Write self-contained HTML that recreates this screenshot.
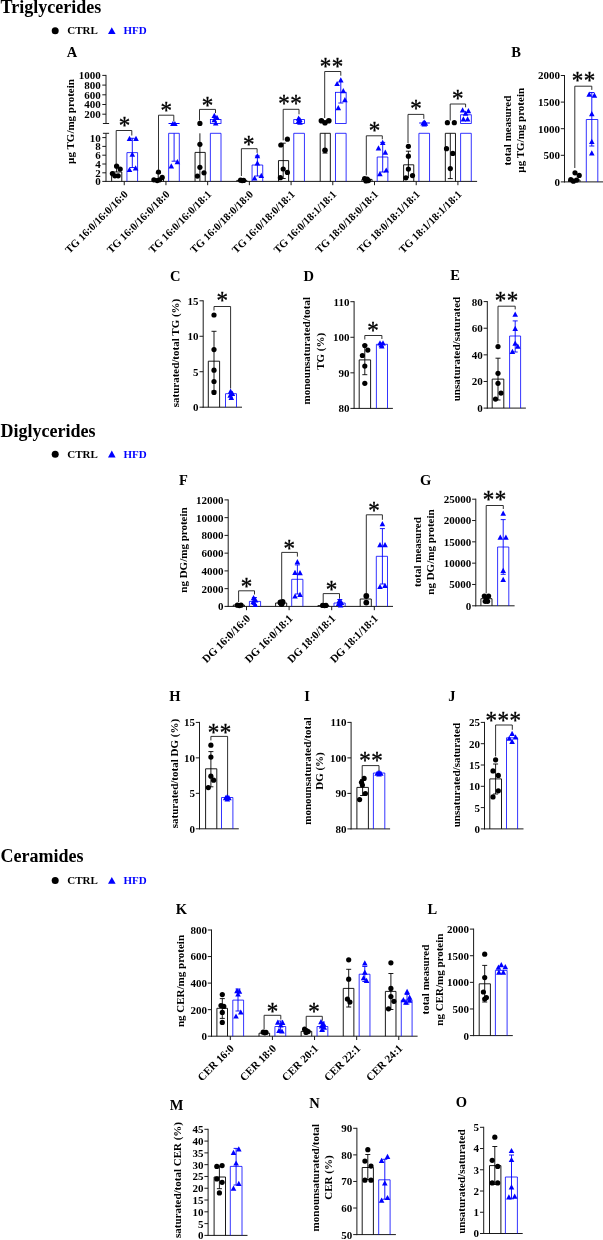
<!DOCTYPE html>
<html lang="en">
<head>
<meta charset="utf-8">
<title>Triglycerides, Diglycerides, Ceramides</title>
<style>
html,body{margin:0;padding:0;background:#fff;}
svg{display:block;font-family:"Liberation Serif", "DejaVu Serif", serif;}
svg text{font-family:"Liberation Serif", "DejaVu Serif", serif;}
</style>
</head>
<body>
<svg width="603" height="1240" viewBox="0 0 603 1240">
<rect x="0" y="0" width="603" height="1240" fill="#fff"/>
<text x="0.5" y="12.5" font-size="18" text-anchor="start" fill="#000" font-weight="bold">Triglycerides</text>
<circle cx="55.2" cy="30.8" r="3.5" fill="#000"/>
<text x="67.2" y="34.4" font-size="11" text-anchor="start" fill="#000" font-weight="bold">CTRL</text>
<polygon points="111.8,27.2 115.6,34.1 108,34.1" fill="#0000ff"/>
<text x="123.5" y="34.4" font-size="11" text-anchor="start" fill="#0000ff" font-weight="bold">HFD</text>
<text x="0.5" y="436.6" font-size="18" text-anchor="start" fill="#000" font-weight="bold">Diglycerides</text>
<circle cx="55.2" cy="454.2" r="3.5" fill="#000"/>
<text x="67.2" y="457.8" font-size="11" text-anchor="start" fill="#000" font-weight="bold">CTRL</text>
<polygon points="111.8,450.6 115.6,457.5 108,457.5" fill="#0000ff"/>
<text x="123.5" y="457.8" font-size="11" text-anchor="start" fill="#0000ff" font-weight="bold">HFD</text>
<text x="0.5" y="861.6" font-size="18" text-anchor="start" fill="#000" font-weight="bold">Ceramides</text>
<circle cx="55.2" cy="880.5" r="3.5" fill="#000"/>
<text x="67.2" y="884.1" font-size="11" text-anchor="start" fill="#000" font-weight="bold">CTRL</text>
<polygon points="111.8,876.9 115.6,883.8 108,883.8" fill="#0000ff"/>
<text x="123.5" y="884.1" font-size="11" text-anchor="start" fill="#0000ff" font-weight="bold">HFD</text>
<text x="66.8" y="56.5" font-size="14.5" text-anchor="start" fill="#000" font-weight="bold">A</text>
<line x1="106" y1="74.9" x2="106" y2="123.5" stroke="#1a1a1a" stroke-width="1"/>
<line x1="102.3" y1="75.4" x2="106" y2="75.4" stroke="#1a1a1a" stroke-width="1"/>
<text x="100.8" y="79.3" font-size="11" text-anchor="end" fill="#000" font-weight="bold">1000</text>
<line x1="102.3" y1="85.1" x2="106" y2="85.1" stroke="#1a1a1a" stroke-width="1"/>
<text x="100.8" y="89" font-size="11" text-anchor="end" fill="#000" font-weight="bold">800</text>
<line x1="102.3" y1="94.8" x2="106" y2="94.8" stroke="#1a1a1a" stroke-width="1"/>
<text x="100.8" y="98.7" font-size="11" text-anchor="end" fill="#000" font-weight="bold">600</text>
<line x1="102.3" y1="104.5" x2="106" y2="104.5" stroke="#1a1a1a" stroke-width="1"/>
<text x="100.8" y="108.4" font-size="11" text-anchor="end" fill="#000" font-weight="bold">400</text>
<line x1="102.3" y1="114.2" x2="106" y2="114.2" stroke="#1a1a1a" stroke-width="1"/>
<text x="100.8" y="118.1" font-size="11" text-anchor="end" fill="#000" font-weight="bold">200</text>
<line x1="102.9" y1="123.5" x2="109.1" y2="123.5" stroke="#1a1a1a" stroke-width="1"/>
<line x1="106" y1="133.3" x2="106" y2="181.9" stroke="#1a1a1a" stroke-width="1"/>
<line x1="102.9" y1="133.3" x2="109.1" y2="133.3" stroke="#1a1a1a" stroke-width="1"/>
<line x1="102.3" y1="137.6" x2="106" y2="137.6" stroke="#1a1a1a" stroke-width="1"/>
<text x="100.8" y="141.5" font-size="11" text-anchor="end" fill="#000" font-weight="bold">10</text>
<line x1="102.3" y1="146.4" x2="106" y2="146.4" stroke="#1a1a1a" stroke-width="1"/>
<text x="100.8" y="150.3" font-size="11" text-anchor="end" fill="#000" font-weight="bold">8</text>
<line x1="102.3" y1="155.2" x2="106" y2="155.2" stroke="#1a1a1a" stroke-width="1"/>
<text x="100.8" y="159.1" font-size="11" text-anchor="end" fill="#000" font-weight="bold">6</text>
<line x1="102.3" y1="164" x2="106" y2="164" stroke="#1a1a1a" stroke-width="1"/>
<text x="100.8" y="167.9" font-size="11" text-anchor="end" fill="#000" font-weight="bold">4</text>
<line x1="102.3" y1="172.8" x2="106" y2="172.8" stroke="#1a1a1a" stroke-width="1"/>
<text x="100.8" y="176.7" font-size="11" text-anchor="end" fill="#000" font-weight="bold">2</text>
<line x1="102.3" y1="181.4" x2="106" y2="181.4" stroke="#1a1a1a" stroke-width="1"/>
<text x="100.8" y="185.3" font-size="11" text-anchor="end" fill="#000" font-weight="bold">0</text>
<text x="73.5" y="121.5" font-size="11" text-anchor="middle" fill="#000" font-weight="bold" transform="rotate(-90 73.5 121.5)">µg TG/mg protein</text>
<line x1="105.5" y1="181.4" x2="477.1" y2="181.4" stroke="#1a1a1a" stroke-width="1"/>
<line x1="124.24" y1="181.4" x2="124.24" y2="185.2" stroke="#1a1a1a" stroke-width="1"/>
<line x1="165.95" y1="181.4" x2="165.95" y2="185.2" stroke="#1a1a1a" stroke-width="1"/>
<line x1="207.66" y1="181.4" x2="207.66" y2="185.2" stroke="#1a1a1a" stroke-width="1"/>
<line x1="249.37" y1="181.4" x2="249.37" y2="185.2" stroke="#1a1a1a" stroke-width="1"/>
<line x1="291.08" y1="181.4" x2="291.08" y2="185.2" stroke="#1a1a1a" stroke-width="1"/>
<line x1="332.79" y1="181.4" x2="332.79" y2="185.2" stroke="#1a1a1a" stroke-width="1"/>
<line x1="374.5" y1="181.4" x2="374.5" y2="185.2" stroke="#1a1a1a" stroke-width="1"/>
<line x1="416.21" y1="181.4" x2="416.21" y2="185.2" stroke="#1a1a1a" stroke-width="1"/>
<line x1="457.92" y1="181.4" x2="457.92" y2="185.2" stroke="#1a1a1a" stroke-width="1"/>
<text x="128.64" y="194.9" font-size="10.8" text-anchor="end" fill="#000" font-weight="bold" transform="rotate(-45 128.64 194.9)">TG 16:0/16:0/16:0</text>
<text x="170.35" y="194.9" font-size="10.8" text-anchor="end" fill="#000" font-weight="bold" transform="rotate(-45 170.35 194.9)">TG 16:0/16:0/18:0</text>
<text x="212.06" y="194.9" font-size="10.8" text-anchor="end" fill="#000" font-weight="bold" transform="rotate(-45 212.06 194.9)">TG 16:0/16:0/18:1</text>
<text x="253.77" y="194.9" font-size="10.8" text-anchor="end" fill="#000" font-weight="bold" transform="rotate(-45 253.77 194.9)">TG 16:0/18:0/18:0</text>
<text x="295.48" y="194.9" font-size="10.8" text-anchor="end" fill="#000" font-weight="bold" transform="rotate(-45 295.48 194.9)">TG 16:0/18:0/18:1</text>
<text x="337.19" y="194.9" font-size="10.8" text-anchor="end" fill="#000" font-weight="bold" transform="rotate(-45 337.19 194.9)">TG 16:0/18:1/18:1</text>
<text x="378.9" y="194.9" font-size="10.8" text-anchor="end" fill="#000" font-weight="bold" transform="rotate(-45 378.9 194.9)">TG 18:0/18:0/18:1</text>
<text x="420.61" y="194.9" font-size="10.8" text-anchor="end" fill="#000" font-weight="bold" transform="rotate(-45 420.61 194.9)">TG 18:0/18:1/18:1</text>
<text x="462.32" y="194.9" font-size="10.8" text-anchor="end" fill="#000" font-weight="bold" transform="rotate(-45 462.32 194.9)">TG 18:1/18:1/18:1</text>
<polyline points="111.64,181.4 111.64,172 121.79,172 121.79,181.4" fill="none" stroke="#000" stroke-width="0.9"/>
<polyline points="126.94,181.4 126.94,152.6 137.59,152.6 137.59,181.4" fill="none" stroke="#0000ff" stroke-width="0.8"/>
<line x1="116.6" y1="165.5" x2="116.6" y2="172" stroke="#000" stroke-width="0.9"/>
<line x1="114.1" y1="165.5" x2="119.1" y2="165.5" stroke="#000" stroke-width="0.9"/>
<line x1="132.3" y1="138.3" x2="132.3" y2="167.5" stroke="#0000ff" stroke-width="0.9"/>
<line x1="129.8" y1="138.3" x2="134.8" y2="138.3" stroke="#0000ff" stroke-width="0.9"/>
<line x1="129.8" y1="167.5" x2="134.8" y2="167.5" stroke="#0000ff" stroke-width="0.9"/>
<circle cx="116.6" cy="166.2" r="2.6" fill="#000"/>
<circle cx="120.2" cy="169.1" r="2.6" fill="#000"/>
<circle cx="112.4" cy="173.6" r="2.6" fill="#000"/>
<circle cx="114.9" cy="175.8" r="2.6" fill="#000"/>
<circle cx="118.2" cy="175.8" r="2.6" fill="#000"/>
<polygon points="129.5,135.7 132.3,140.9 126.7,140.9" fill="#0000ff"/>
<polygon points="136,135.7 138.8,140.9 133.2,140.9" fill="#0000ff"/>
<polygon points="132.3,151.5 135.1,156.7 129.5,156.7" fill="#0000ff"/>
<polygon points="129.5,166.9 132.3,172.1 126.7,172.1" fill="#0000ff"/>
<polygon points="135.6,165.2 138.4,170.4 132.8,170.4" fill="#0000ff"/>
<polyline points="116.2,164.5 116.2,130.5 131.8,130.5 131.8,135.5" fill="none" stroke="#1a1a1a" stroke-width="0.9"/>
<g transform="translate(124.4 122.5) scale(1 1.1)"><text x="0" y="10.74" font-size="23" text-anchor="middle" font-weight="normal" fill="#000" stroke="#000" stroke-width="0.35">*</text></g>
<polyline points="153.35,181.4 153.35,179 163.5,179 163.5,181.4" fill="none" stroke="#000" stroke-width="0.9"/>
<polyline points="168.65,181.4 168.65,133.3 179.3,133.3 179.3,181.4" fill="none" stroke="#0000ff" stroke-width="0.8"/>
<line x1="168.5" y1="123.5" x2="179.6" y2="123.5" stroke="#0000ff" stroke-width="1"/>
<line x1="158.2" y1="173" x2="158.2" y2="179" stroke="#000" stroke-width="0.9"/>
<line x1="155.7" y1="173" x2="160.7" y2="173" stroke="#000" stroke-width="0.9"/>
<line x1="174.1" y1="133.3" x2="174.1" y2="161.2" stroke="#0000ff" stroke-width="0.9"/>
<line x1="171.6" y1="161.2" x2="176.6" y2="161.2" stroke="#0000ff" stroke-width="0.9"/>
<circle cx="158.5" cy="172" r="2.6" fill="#000"/>
<circle cx="162.2" cy="177.4" r="2.6" fill="#000"/>
<circle cx="153.9" cy="179.8" r="2.6" fill="#000"/>
<circle cx="157.2" cy="180.6" r="2.6" fill="#000"/>
<circle cx="159.7" cy="179.8" r="2.6" fill="#000"/>
<polygon points="172.9,120.9 175.7,126.1 170.1,126.1" fill="#0000ff"/>
<polygon points="174.9,120.9 177.7,126.1 172.1,126.1" fill="#0000ff"/>
<polygon points="171.3,163.2 174.1,168.4 168.5,168.4" fill="#0000ff"/>
<polygon points="177.4,159.1 180.2,164.3 174.6,164.3" fill="#0000ff"/>
<polyline points="158.5,170.3 158.5,115.2 173.8,115.2 173.8,121.4" fill="none" stroke="#1a1a1a" stroke-width="0.9"/>
<g transform="translate(166.3 106.8) scale(1 1.1)"><text x="0" y="10.74" font-size="23" text-anchor="middle" font-weight="normal" fill="#000" stroke="#000" stroke-width="0.35">*</text></g>
<polyline points="195.06,181.4 195.06,152.4 205.21,152.4 205.21,181.4" fill="none" stroke="#000" stroke-width="0.9"/>
<polyline points="210.36,181.4 210.36,133.3 221.01,133.3 221.01,181.4" fill="none" stroke="#0000ff" stroke-width="0.8"/>
<rect x="210.36" y="119.4" width="10.65" height="4.1" fill="none" stroke="#0000ff" stroke-width="0.8"/>
<line x1="199.9" y1="133.3" x2="199.9" y2="181" stroke="#000" stroke-width="0.9"/>
<circle cx="199.9" cy="123.4" r="2.6" fill="#000"/>
<circle cx="199.9" cy="144.3" r="2.6" fill="#000"/>
<circle cx="199.9" cy="167.3" r="2.6" fill="#000"/>
<circle cx="204" cy="172.8" r="2.6" fill="#000"/>
<circle cx="197.4" cy="176.1" r="2.6" fill="#000"/>
<polygon points="214.3,112.8 217.1,118 211.5,118" fill="#0000ff"/>
<polygon points="217,114.8 219.8,120 214.2,120" fill="#0000ff"/>
<polygon points="214.3,117 217.1,122.2 211.5,122.2" fill="#0000ff"/>
<polygon points="215.7,120.4 218.5,125.6 212.9,125.6" fill="#0000ff"/>
<polyline points="199.5,120.5 199.5,109.4 215.5,109.4 215.5,113.1" fill="none" stroke="#1a1a1a" stroke-width="0.9"/>
<g transform="translate(207.4 101.8) scale(1 1.1)"><text x="0" y="10.74" font-size="23" text-anchor="middle" font-weight="normal" fill="#000" stroke="#000" stroke-width="0.35">*</text></g>
<polyline points="236.77,181.4 236.77,180.4 246.92,180.4 246.92,181.4" fill="none" stroke="#000" stroke-width="0.9"/>
<polyline points="252.07,181.4 252.07,165 262.72,165 262.72,181.4" fill="none" stroke="#0000ff" stroke-width="0.8"/>
<line x1="257.4" y1="156" x2="257.4" y2="176" stroke="#0000ff" stroke-width="0.9"/>
<line x1="254.9" y1="156" x2="259.9" y2="156" stroke="#0000ff" stroke-width="0.9"/>
<line x1="254.9" y1="176" x2="259.9" y2="176" stroke="#0000ff" stroke-width="0.9"/>
<circle cx="240.6" cy="180.2" r="2.6" fill="#000"/>
<circle cx="242.2" cy="180.6" r="2.6" fill="#000"/>
<circle cx="243.6" cy="180.4" r="2.6" fill="#000"/>
<polygon points="257.4,153.1 260.2,158.3 254.6,158.3" fill="#0000ff"/>
<polygon points="257.4,160.2 260.2,165.4 254.6,165.4" fill="#0000ff"/>
<polygon points="254.6,175.2 257.4,180.4 251.8,180.4" fill="#0000ff"/>
<polygon points="261.3,172.7 264.1,177.9 258.5,177.9" fill="#0000ff"/>
<polyline points="241.4,176 241.4,148.7 257.1,148.7 257.1,152.9" fill="none" stroke="#1a1a1a" stroke-width="0.9"/>
<g transform="translate(248.8 141.3) scale(1 1.1)"><text x="0" y="10.74" font-size="23" text-anchor="middle" font-weight="normal" fill="#000" stroke="#000" stroke-width="0.35">*</text></g>
<polyline points="278.48,181.4 278.48,160.6 288.63,160.6 288.63,181.4" fill="none" stroke="#000" stroke-width="0.9"/>
<polyline points="293.78,181.4 293.78,133.3 304.43,133.3 304.43,181.4" fill="none" stroke="#0000ff" stroke-width="0.8"/>
<rect x="293.78" y="119.6" width="10.65" height="3.9" fill="none" stroke="#0000ff" stroke-width="0.8"/>
<line x1="283.2" y1="143.2" x2="283.2" y2="178.5" stroke="#000" stroke-width="0.9"/>
<line x1="280.7" y1="143.2" x2="285.7" y2="143.2" stroke="#000" stroke-width="0.9"/>
<line x1="280.7" y1="178.5" x2="285.7" y2="178.5" stroke="#000" stroke-width="0.9"/>
<circle cx="287.4" cy="139.2" r="2.6" fill="#000"/>
<circle cx="280.8" cy="145" r="2.6" fill="#000"/>
<circle cx="283.2" cy="169" r="2.6" fill="#000"/>
<circle cx="287.4" cy="172.4" r="2.6" fill="#000"/>
<circle cx="280.4" cy="177.7" r="2.6" fill="#000"/>
<polygon points="298.6,115.6 301.4,120.8 295.8,120.8" fill="#0000ff"/>
<polygon points="299.8,116.8 302.6,122 297,122" fill="#0000ff"/>
<polygon points="298.4,118.6 301.2,123.8 295.6,123.8" fill="#0000ff"/>
<polygon points="300,119.6 302.8,124.8 297.2,124.8" fill="#0000ff"/>
<polyline points="283.2,140.4 283.2,109.3 299,109.3 299,114.3" fill="none" stroke="#1a1a1a" stroke-width="0.9"/>
<g transform="translate(290.35 100.5) scale(1 1.1)"><text x="0" y="10.74" font-size="23" text-anchor="middle" font-weight="normal" fill="#000" stroke="#000" stroke-width="0.35" letter-spacing="0.5">**</text></g>
<polyline points="320.19,181.4 320.19,133.3 330.34,133.3 330.34,181.4" fill="none" stroke="#000" stroke-width="0.9"/>
<polyline points="335.49,181.4 335.49,133.3 346.14,133.3 346.14,181.4" fill="none" stroke="#0000ff" stroke-width="0.8"/>
<rect x="335.49" y="92.3" width="10.65" height="31.2" fill="none" stroke="#0000ff" stroke-width="0.8"/>
<line x1="325" y1="133.3" x2="325" y2="153.1" stroke="#000" stroke-width="0.9"/>
<line x1="322.5" y1="153.1" x2="327.5" y2="153.1" stroke="#000" stroke-width="0.9"/>
<circle cx="321.4" cy="120.8" r="2.8" fill="#000"/>
<circle cx="325" cy="122.8" r="2.8" fill="#000"/>
<circle cx="328.8" cy="120.8" r="2.8" fill="#000"/>
<circle cx="325" cy="150.3" r="2.8" fill="#000"/>
<line x1="340.8" y1="80" x2="340.8" y2="103" stroke="#0000ff" stroke-width="0.9"/>
<line x1="338.3" y1="103" x2="343.3" y2="103" stroke="#0000ff" stroke-width="0.9"/>
<polygon points="340.8,77.2 343.6,82.4 338,82.4" fill="#0000ff"/>
<polygon points="337.1,80.9 339.9,86.1 334.3,86.1" fill="#0000ff"/>
<polygon points="343.3,88 346.1,93.2 340.5,93.2" fill="#0000ff"/>
<polygon points="344.9,97.1 347.7,102.3 342.1,102.3" fill="#0000ff"/>
<polygon points="338.3,105.1 341.1,110.3 335.5,110.3" fill="#0000ff"/>
<polyline points="324.7,118 324.7,71.5 340.8,71.5 340.8,75.7" fill="none" stroke="#1a1a1a" stroke-width="0.9"/>
<g transform="translate(331.85 63.2) scale(1 1.1)"><text x="0" y="10.74" font-size="23" text-anchor="middle" font-weight="normal" fill="#000" stroke="#000" stroke-width="0.35" letter-spacing="0.5">**</text></g>
<polyline points="361.9,181.4 361.9,179.4 372.05,179.4 372.05,181.4" fill="none" stroke="#000" stroke-width="0.9"/>
<polyline points="377.2,181.4 377.2,157 387.85,157 387.85,181.4" fill="none" stroke="#0000ff" stroke-width="0.8"/>
<line x1="382.7" y1="142.4" x2="382.7" y2="172" stroke="#0000ff" stroke-width="0.9"/>
<line x1="380.2" y1="142.4" x2="385.2" y2="142.4" stroke="#0000ff" stroke-width="0.9"/>
<line x1="380.2" y1="172" x2="385.2" y2="172" stroke="#0000ff" stroke-width="0.9"/>
<circle cx="364.6" cy="178.6" r="2.6" fill="#000"/>
<circle cx="367.2" cy="179.2" r="2.6" fill="#000"/>
<circle cx="366" cy="181" r="2.6" fill="#000"/>
<circle cx="368.4" cy="180.6" r="2.6" fill="#000"/>
<polygon points="382.7,139.8 385.5,145 379.9,145" fill="#0000ff"/>
<polygon points="378.5,145.3 381.3,150.5 375.7,150.5" fill="#0000ff"/>
<polygon points="385.3,149.5 388.1,154.7 382.5,154.7" fill="#0000ff"/>
<polygon points="386.2,167.4 389,172.6 383.4,172.6" fill="#0000ff"/>
<polygon points="379.9,171 382.7,176.2 377.1,176.2" fill="#0000ff"/>
<polyline points="366.3,175.3 366.3,135.8 382.3,135.8 382.3,139.3" fill="none" stroke="#1a1a1a" stroke-width="0.9"/>
<g transform="translate(374.4 127.5) scale(1 1.1)"><text x="0" y="10.74" font-size="23" text-anchor="middle" font-weight="normal" fill="#000" stroke="#000" stroke-width="0.35">*</text></g>
<polyline points="403.61,181.4 403.61,164.8 413.76,164.8 413.76,181.4" fill="none" stroke="#000" stroke-width="0.9"/>
<polyline points="418.91,181.4 418.91,133.3 429.56,133.3 429.56,181.4" fill="none" stroke="#0000ff" stroke-width="0.8"/>
<line x1="419.2" y1="123" x2="429.9" y2="123" stroke="#0000ff" stroke-width="1"/>
<line x1="408.4" y1="151.2" x2="408.4" y2="178" stroke="#000" stroke-width="0.9"/>
<line x1="405.9" y1="151.2" x2="410.9" y2="151.2" stroke="#000" stroke-width="0.9"/>
<circle cx="408.4" cy="146.3" r="2.6" fill="#000"/>
<circle cx="408.4" cy="156.2" r="2.6" fill="#000"/>
<circle cx="408.4" cy="169.1" r="2.6" fill="#000"/>
<circle cx="412.5" cy="175.6" r="2.6" fill="#000"/>
<circle cx="405.9" cy="177.8" r="2.6" fill="#000"/>
<polygon points="423.2,120.2 426,125.4 420.4,125.4" fill="#0000ff"/>
<polygon points="425.4,120.6 428.2,125.8 422.6,125.8" fill="#0000ff"/>
<polygon points="424.3,119.4 427.1,124.6 421.5,124.6" fill="#0000ff"/>
<polygon points="424.3,121.4 427.1,126.6 421.5,126.6" fill="#0000ff"/>
<polyline points="408,143 408,114.4 423.8,114.4 423.8,118.9" fill="none" stroke="#1a1a1a" stroke-width="0.9"/>
<g transform="translate(416 105.6) scale(1 1.1)"><text x="0" y="10.74" font-size="23" text-anchor="middle" font-weight="normal" fill="#000" stroke="#000" stroke-width="0.35">*</text></g>
<polyline points="445.32,181.4 445.32,133.3 455.47,133.3 455.47,181.4" fill="none" stroke="#000" stroke-width="0.9"/>
<polyline points="460.62,181.4 460.62,133.3 471.27,133.3 471.27,181.4" fill="none" stroke="#0000ff" stroke-width="0.8"/>
<rect x="460.62" y="114.8" width="10.65" height="8.7" fill="none" stroke="#0000ff" stroke-width="0.8"/>
<line x1="450.3" y1="133.3" x2="450.3" y2="178.6" stroke="#000" stroke-width="0.9"/>
<line x1="447.8" y1="178.6" x2="452.8" y2="178.6" stroke="#000" stroke-width="0.9"/>
<circle cx="447.4" cy="122.7" r="2.6" fill="#000"/>
<circle cx="454.3" cy="122.7" r="2.6" fill="#000"/>
<circle cx="446.5" cy="148.7" r="2.6" fill="#000"/>
<circle cx="452.8" cy="153.4" r="2.6" fill="#000"/>
<circle cx="450.3" cy="168.6" r="2.6" fill="#000"/>
<polygon points="462.6,107.2 465.4,112.4 459.8,112.4" fill="#0000ff"/>
<polygon points="468.4,108 471.2,113.2 465.6,113.2" fill="#0000ff"/>
<polygon points="465.6,110.5 468.4,115.7 462.8,115.7" fill="#0000ff"/>
<polygon points="463.4,116.3 466.2,121.5 460.6,121.5" fill="#0000ff"/>
<polygon points="467.6,116.3 470.4,121.5 464.8,121.5" fill="#0000ff"/>
<polyline points="450.2,120.6 450.2,104 465.6,104 465.6,107.3" fill="none" stroke="#1a1a1a" stroke-width="0.9"/>
<g transform="translate(457.8 95.2) scale(1 1.1)"><text x="0" y="10.74" font-size="23" text-anchor="middle" font-weight="normal" fill="#000" stroke="#000" stroke-width="0.35">*</text></g>
<text x="511.3" y="56.5" font-size="14.5" text-anchor="start" fill="#000" font-weight="bold">B</text>
<line x1="564.5" y1="75" x2="564.5" y2="182.4" stroke="#1a1a1a" stroke-width="1"/>
<line x1="560.8" y1="181.9" x2="564.5" y2="181.9" stroke="#1a1a1a" stroke-width="1"/>
<text x="559.9" y="185.8" font-size="11" text-anchor="end" fill="#000" font-weight="bold">0</text>
<line x1="560.8" y1="155.3" x2="564.5" y2="155.3" stroke="#1a1a1a" stroke-width="1"/>
<text x="559.9" y="159.2" font-size="11" text-anchor="end" fill="#000" font-weight="bold">500</text>
<line x1="560.8" y1="128.7" x2="564.5" y2="128.7" stroke="#1a1a1a" stroke-width="1"/>
<text x="559.9" y="132.6" font-size="11" text-anchor="end" fill="#000" font-weight="bold">1000</text>
<line x1="560.8" y1="102.1" x2="564.5" y2="102.1" stroke="#1a1a1a" stroke-width="1"/>
<text x="559.9" y="106" font-size="11" text-anchor="end" fill="#000" font-weight="bold">1500</text>
<line x1="560.8" y1="75.5" x2="564.5" y2="75.5" stroke="#1a1a1a" stroke-width="1"/>
<text x="559.9" y="79.4" font-size="11" text-anchor="end" fill="#000" font-weight="bold">2000</text>
<line x1="564" y1="181.9" x2="603" y2="181.9" stroke="#1a1a1a" stroke-width="1"/>
<text x="511.5" y="130.6" font-size="11" text-anchor="middle" fill="#000" font-weight="bold" transform="rotate(-90 511.5 130.6)">total measured</text>
<text x="524.1" y="130.3" font-size="11" text-anchor="middle" fill="#000" font-weight="bold" transform="rotate(-90 524.1 130.3)">µg TG/mg protein</text>
<polyline points="568.5,181.9 568.5,180 580,180 580,181.9" fill="none" stroke="#000" stroke-width="0.9"/>
<polyline points="586.3,181.9 586.3,119.5 597.8,119.5 597.8,181.9" fill="none" stroke="#0000ff" stroke-width="0.8"/>
<line x1="591.8" y1="92.5" x2="591.8" y2="146" stroke="#0000ff" stroke-width="0.9"/>
<line x1="589.3" y1="92.5" x2="594.3" y2="92.5" stroke="#0000ff" stroke-width="0.9"/>
<line x1="589.3" y1="146" x2="594.3" y2="146" stroke="#0000ff" stroke-width="0.9"/>
<circle cx="575" cy="172.8" r="2.6" fill="#000"/>
<circle cx="579.2" cy="175.4" r="2.6" fill="#000"/>
<circle cx="570.8" cy="179.6" r="2.6" fill="#000"/>
<circle cx="573.4" cy="181.2" r="2.6" fill="#000"/>
<circle cx="576.6" cy="180.1" r="2.6" fill="#000"/>
<polygon points="589.2,91.5 592,96.7 586.4,96.7" fill="#0000ff"/>
<polygon points="594.4,92.5 597.2,97.7 591.6,97.7" fill="#0000ff"/>
<polygon points="591.8,111.1 594.6,116.3 589,116.3" fill="#0000ff"/>
<polygon points="591.8,138.7 594.6,143.9 589,143.9" fill="#0000ff"/>
<polygon points="591.8,150.2 594.6,155.4 589,155.4" fill="#0000ff"/>
<polyline points="574.8,168 574.8,86.2 591.8,86.2 591.8,89.9" fill="none" stroke="#1a1a1a" stroke-width="0.9"/>
<g transform="translate(583.75 77.3) scale(1 1.1)"><text x="0" y="10.74" font-size="23" text-anchor="middle" font-weight="normal" fill="#000" stroke="#000" stroke-width="0.35" letter-spacing="0.5">**</text></g>
<text x="170" y="280.6" font-size="14.5" text-anchor="start" fill="#000" font-weight="bold">C</text>
<line x1="203.2" y1="300.3" x2="203.2" y2="407.7" stroke="#1a1a1a" stroke-width="1"/>
<line x1="199.5" y1="407.2" x2="203.2" y2="407.2" stroke="#1a1a1a" stroke-width="1"/>
<text x="198.6" y="411.1" font-size="11" text-anchor="end" fill="#000" font-weight="bold">0</text>
<line x1="199.5" y1="371.73" x2="203.2" y2="371.73" stroke="#1a1a1a" stroke-width="1"/>
<text x="198.6" y="375.63" font-size="11" text-anchor="end" fill="#000" font-weight="bold">5</text>
<line x1="199.5" y1="336.27" x2="203.2" y2="336.27" stroke="#1a1a1a" stroke-width="1"/>
<text x="198.6" y="340.17" font-size="11" text-anchor="end" fill="#000" font-weight="bold">10</text>
<line x1="199.5" y1="300.8" x2="203.2" y2="300.8" stroke="#1a1a1a" stroke-width="1"/>
<text x="198.6" y="304.7" font-size="11" text-anchor="end" fill="#000" font-weight="bold">15</text>
<line x1="202.7" y1="407.2" x2="242" y2="407.2" stroke="#1a1a1a" stroke-width="1"/>
<text x="178.5" y="353" font-size="11" text-anchor="middle" fill="#000" font-weight="bold" transform="rotate(-90 178.5 353)">saturated/total TG (%)</text>
<polyline points="208.3,407.2 208.3,361.2 219.6,361.2 219.6,407.2" fill="none" stroke="#000" stroke-width="0.9"/>
<polyline points="225.5,407.2 225.5,393.7 236.5,393.7 236.5,407.2" fill="none" stroke="#0000ff" stroke-width="0.8"/>
<line x1="214" y1="331.3" x2="214" y2="391" stroke="#000" stroke-width="0.9"/>
<line x1="211.5" y1="331.3" x2="216.5" y2="331.3" stroke="#000" stroke-width="0.9"/>
<line x1="211.5" y1="391" x2="216.5" y2="391" stroke="#000" stroke-width="0.9"/>
<circle cx="214" cy="315" r="2.6" fill="#000"/>
<circle cx="214" cy="349.6" r="2.6" fill="#000"/>
<circle cx="214" cy="370.2" r="2.6" fill="#000"/>
<circle cx="214" cy="381.5" r="2.6" fill="#000"/>
<circle cx="214" cy="392.4" r="2.6" fill="#000"/>
<polygon points="230.6,388.6 233.4,393.8 227.8,393.8" fill="#0000ff"/>
<polygon points="232.4,390.8 235.2,396 229.6,396" fill="#0000ff"/>
<polygon points="230.2,392.6 233,397.8 227.4,397.8" fill="#0000ff"/>
<polygon points="231.3,394.8 234.1,400 228.5,400" fill="#0000ff"/>
<polyline points="214,310.5 214,306.5 230.6,306.5 230.6,388.5" fill="none" stroke="#1a1a1a" stroke-width="0.9"/>
<g transform="translate(222.2 297.6) scale(1 1.1)"><text x="0" y="10.74" font-size="23" text-anchor="middle" font-weight="normal" fill="#000" stroke="#000" stroke-width="0.35">*</text></g>
<text x="303.5" y="280.6" font-size="14.5" text-anchor="start" fill="#000" font-weight="bold">D</text>
<line x1="354.1" y1="301.2" x2="354.1" y2="408.9" stroke="#1a1a1a" stroke-width="1"/>
<line x1="350.4" y1="408.4" x2="354.1" y2="408.4" stroke="#1a1a1a" stroke-width="1"/>
<text x="349.5" y="412.3" font-size="11" text-anchor="end" fill="#000" font-weight="bold">80</text>
<line x1="350.4" y1="372.83" x2="354.1" y2="372.83" stroke="#1a1a1a" stroke-width="1"/>
<text x="349.5" y="376.73" font-size="11" text-anchor="end" fill="#000" font-weight="bold">90</text>
<line x1="350.4" y1="337.27" x2="354.1" y2="337.27" stroke="#1a1a1a" stroke-width="1"/>
<text x="349.5" y="341.17" font-size="11" text-anchor="end" fill="#000" font-weight="bold">100</text>
<line x1="350.4" y1="301.7" x2="354.1" y2="301.7" stroke="#1a1a1a" stroke-width="1"/>
<text x="349.5" y="305.6" font-size="11" text-anchor="end" fill="#000" font-weight="bold">110</text>
<line x1="353.6" y1="408.4" x2="392.9" y2="408.4" stroke="#1a1a1a" stroke-width="1"/>
<text x="310.5" y="350.7" font-size="11" text-anchor="middle" fill="#000" font-weight="bold" transform="rotate(-90 310.5 350.7)">monounsaturated/total</text>
<text x="324" y="351.3" font-size="11" text-anchor="middle" fill="#000" font-weight="bold" transform="rotate(-90 324 351.3)">TG (%)</text>
<polyline points="359.2,408.4 359.2,359.9 370.6,359.9 370.6,408.4" fill="none" stroke="#000" stroke-width="0.9"/>
<polyline points="376.4,408.4 376.4,344.3 387.5,344.3 387.5,408.4" fill="none" stroke="#0000ff" stroke-width="0.8"/>
<line x1="364.8" y1="345.1" x2="364.8" y2="374.7" stroke="#000" stroke-width="0.9"/>
<line x1="362.3" y1="345.1" x2="367.3" y2="345.1" stroke="#000" stroke-width="0.9"/>
<line x1="362.3" y1="374.7" x2="367.3" y2="374.7" stroke="#000" stroke-width="0.9"/>
<circle cx="364.8" cy="345.5" r="2.6" fill="#000"/>
<circle cx="367.8" cy="350.1" r="2.6" fill="#000"/>
<circle cx="362.4" cy="355.5" r="2.6" fill="#000"/>
<circle cx="364.8" cy="366.1" r="2.6" fill="#000"/>
<circle cx="364.8" cy="383.3" r="2.6" fill="#000"/>
<polygon points="380,340.2 382.8,345.4 377.2,345.4" fill="#0000ff"/>
<polygon points="383,340.2 385.8,345.4 380.2,345.4" fill="#0000ff"/>
<polygon points="381.3,342 384.1,347.2 378.5,347.2" fill="#0000ff"/>
<polygon points="381.8,343.4 384.6,348.6 379,348.6" fill="#0000ff"/>
<polyline points="364.8,339.5 364.8,335.5 381.9,335.5 381.9,339" fill="none" stroke="#1a1a1a" stroke-width="0.9"/>
<g transform="translate(373.1 326.7) scale(1 1.1)"><text x="0" y="10.74" font-size="23" text-anchor="middle" font-weight="normal" fill="#000" stroke="#000" stroke-width="0.35">*</text></g>
<text x="450.2" y="279.8" font-size="14.5" text-anchor="start" fill="#000" font-weight="bold">E</text>
<line x1="487.3" y1="301.1" x2="487.3" y2="408.6" stroke="#1a1a1a" stroke-width="1"/>
<line x1="483.6" y1="408.1" x2="487.3" y2="408.1" stroke="#1a1a1a" stroke-width="1"/>
<text x="482.7" y="412" font-size="11" text-anchor="end" fill="#000" font-weight="bold">0</text>
<line x1="483.6" y1="381.48" x2="487.3" y2="381.48" stroke="#1a1a1a" stroke-width="1"/>
<text x="482.7" y="385.38" font-size="11" text-anchor="end" fill="#000" font-weight="bold">20</text>
<line x1="483.6" y1="354.85" x2="487.3" y2="354.85" stroke="#1a1a1a" stroke-width="1"/>
<text x="482.7" y="358.75" font-size="11" text-anchor="end" fill="#000" font-weight="bold">40</text>
<line x1="483.6" y1="328.23" x2="487.3" y2="328.23" stroke="#1a1a1a" stroke-width="1"/>
<text x="482.7" y="332.12" font-size="11" text-anchor="end" fill="#000" font-weight="bold">60</text>
<line x1="483.6" y1="301.6" x2="487.3" y2="301.6" stroke="#1a1a1a" stroke-width="1"/>
<text x="482.7" y="305.5" font-size="11" text-anchor="end" fill="#000" font-weight="bold">80</text>
<line x1="486.8" y1="408.1" x2="525.9" y2="408.1" stroke="#1a1a1a" stroke-width="1"/>
<text x="460.1" y="349" font-size="11" text-anchor="middle" fill="#000" font-weight="bold" transform="rotate(-90 460.1 349)">unsaturated/saturated</text>
<polyline points="492.2,408.1 492.2,379.1 503.8,379.1 503.8,408.1" fill="none" stroke="#000" stroke-width="0.9"/>
<polyline points="509.6,408.1 509.6,336 520.6,336 520.6,408.1" fill="none" stroke="#0000ff" stroke-width="0.8"/>
<line x1="498" y1="358.2" x2="498" y2="400" stroke="#000" stroke-width="0.9"/>
<line x1="495.5" y1="358.2" x2="500.5" y2="358.2" stroke="#000" stroke-width="0.9"/>
<line x1="495.5" y1="400" x2="500.5" y2="400" stroke="#000" stroke-width="0.9"/>
<line x1="515.2" y1="320.9" x2="515.2" y2="352" stroke="#0000ff" stroke-width="0.9"/>
<line x1="512.7" y1="320.9" x2="517.7" y2="320.9" stroke="#0000ff" stroke-width="0.9"/>
<line x1="512.7" y1="352" x2="517.7" y2="352" stroke="#0000ff" stroke-width="0.9"/>
<circle cx="498" cy="346.6" r="2.6" fill="#000"/>
<circle cx="498" cy="373.3" r="2.6" fill="#000"/>
<circle cx="498" cy="383.3" r="2.6" fill="#000"/>
<circle cx="501" cy="393.1" r="2.6" fill="#000"/>
<circle cx="495.5" cy="399.1" r="2.6" fill="#000"/>
<polygon points="515.2,311.5 518,316.7 512.4,316.7" fill="#0000ff"/>
<polygon points="515.2,325.7 518,330.9 512.4,330.9" fill="#0000ff"/>
<polygon points="515.2,340.6 518,345.8 512.4,345.8" fill="#0000ff"/>
<polygon points="517.8,343.6 520.6,348.8 515,348.8" fill="#0000ff"/>
<polygon points="512.4,348.7 515.2,353.9 509.6,353.9" fill="#0000ff"/>
<polyline points="498,343.5 498,306.2 515.2,306.2 515.2,309.4" fill="none" stroke="#1a1a1a" stroke-width="0.9"/>
<g transform="translate(506.85 297.6) scale(1 1.1)"><text x="0" y="10.74" font-size="23" text-anchor="middle" font-weight="normal" fill="#000" stroke="#000" stroke-width="0.35" letter-spacing="0.5">**</text></g>
<text x="179" y="484.7" font-size="14.5" text-anchor="start" fill="#000" font-weight="bold">F</text>
<line x1="228.2" y1="499.4" x2="228.2" y2="606.9" stroke="#1a1a1a" stroke-width="1"/>
<line x1="224.5" y1="606.4" x2="228.2" y2="606.4" stroke="#1a1a1a" stroke-width="1"/>
<text x="223.6" y="610.3" font-size="11" text-anchor="end" fill="#000" font-weight="bold">0</text>
<line x1="224.5" y1="588.65" x2="228.2" y2="588.65" stroke="#1a1a1a" stroke-width="1"/>
<text x="223.6" y="592.55" font-size="11" text-anchor="end" fill="#000" font-weight="bold">2000</text>
<line x1="224.5" y1="570.9" x2="228.2" y2="570.9" stroke="#1a1a1a" stroke-width="1"/>
<text x="223.6" y="574.8" font-size="11" text-anchor="end" fill="#000" font-weight="bold">4000</text>
<line x1="224.5" y1="553.15" x2="228.2" y2="553.15" stroke="#1a1a1a" stroke-width="1"/>
<text x="223.6" y="557.05" font-size="11" text-anchor="end" fill="#000" font-weight="bold">6000</text>
<line x1="224.5" y1="535.4" x2="228.2" y2="535.4" stroke="#1a1a1a" stroke-width="1"/>
<text x="223.6" y="539.3" font-size="11" text-anchor="end" fill="#000" font-weight="bold">8000</text>
<line x1="224.5" y1="517.65" x2="228.2" y2="517.65" stroke="#1a1a1a" stroke-width="1"/>
<text x="223.6" y="521.55" font-size="11" text-anchor="end" fill="#000" font-weight="bold">10000</text>
<line x1="224.5" y1="499.9" x2="228.2" y2="499.9" stroke="#1a1a1a" stroke-width="1"/>
<text x="223.6" y="503.8" font-size="11" text-anchor="end" fill="#000" font-weight="bold">12000</text>
<line x1="227.7" y1="606.4" x2="393" y2="606.4" stroke="#1a1a1a" stroke-width="1"/>
<line x1="246.5" y1="606.4" x2="246.5" y2="610.2" stroke="#1a1a1a" stroke-width="1"/>
<line x1="289.1" y1="606.4" x2="289.1" y2="610.2" stroke="#1a1a1a" stroke-width="1"/>
<line x1="331.7" y1="606.4" x2="331.7" y2="610.2" stroke="#1a1a1a" stroke-width="1"/>
<line x1="374.3" y1="606.4" x2="374.3" y2="610.2" stroke="#1a1a1a" stroke-width="1"/>
<text x="187" y="550" font-size="11" text-anchor="middle" fill="#000" font-weight="bold" transform="rotate(-90 187 550)">ng DG/mg protein</text>
<text x="250.9" y="619.2" font-size="11" text-anchor="end" fill="#000" font-weight="bold" transform="rotate(-45 250.9 619.2)">DG 16:0/16:0</text>
<text x="293.5" y="619.2" font-size="11" text-anchor="end" fill="#000" font-weight="bold" transform="rotate(-45 293.5 619.2)">DG 16:0/18:1</text>
<text x="336.1" y="619.2" font-size="11" text-anchor="end" fill="#000" font-weight="bold" transform="rotate(-45 336.1 619.2)">DG 18:0/18:1</text>
<text x="378.7" y="619.2" font-size="11" text-anchor="end" fill="#000" font-weight="bold" transform="rotate(-45 378.7 619.2)">DG 18:1/18:1</text>
<polyline points="233.3,606.4 233.3,605 244.4,605 244.4,606.4" fill="none" stroke="#000" stroke-width="0.9"/>
<polyline points="249.4,606.4 249.4,601.4 260.6,601.4 260.6,606.4" fill="none" stroke="#0000ff" stroke-width="0.8"/>
<circle cx="237.4" cy="605.2" r="2.6" fill="#000"/>
<circle cx="239.4" cy="605.6" r="2.6" fill="#000"/>
<circle cx="241" cy="605.2" r="2.6" fill="#000"/>
<line x1="254.4" y1="597.5" x2="254.4" y2="604.5" stroke="#0000ff" stroke-width="0.9"/>
<line x1="251.9" y1="597.5" x2="256.9" y2="597.5" stroke="#0000ff" stroke-width="0.9"/>
<line x1="251.9" y1="604.5" x2="256.9" y2="604.5" stroke="#0000ff" stroke-width="0.9"/>
<polygon points="253.6,595 256.4,600.2 250.8,600.2" fill="#0000ff"/>
<polygon points="255.6,597.2 258.4,602.4 252.8,602.4" fill="#0000ff"/>
<polygon points="253.2,599 256,604.2 250.4,604.2" fill="#0000ff"/>
<polygon points="255.2,601.8 258,607 252.4,607" fill="#0000ff"/>
<polyline points="238.6,602 238.6,590.8 254.5,590.8 254.5,594.5" fill="none" stroke="#1a1a1a" stroke-width="0.9"/>
<g transform="translate(246.4 583.2) scale(1 1.1)"><text x="0" y="10.74" font-size="23" text-anchor="middle" font-weight="normal" fill="#000" stroke="#000" stroke-width="0.35">*</text></g>
<polyline points="275.6,606.4 275.6,603 286.7,603 286.7,606.4" fill="none" stroke="#000" stroke-width="0.9"/>
<polyline points="291.7,606.4 291.7,579.3 302.9,579.3 302.9,606.4" fill="none" stroke="#0000ff" stroke-width="0.8"/>
<circle cx="280.4" cy="602.4" r="2.9" fill="#000"/>
<circle cx="282.6" cy="602" r="2.9" fill="#000"/>
<circle cx="281.6" cy="604" r="2.9" fill="#000"/>
<line x1="297.4" y1="564.9" x2="297.4" y2="594" stroke="#0000ff" stroke-width="0.9"/>
<line x1="294.9" y1="564.9" x2="299.9" y2="564.9" stroke="#0000ff" stroke-width="0.9"/>
<line x1="294.9" y1="594" x2="299.9" y2="594" stroke="#0000ff" stroke-width="0.9"/>
<polygon points="297.4,559 300.2,564.2 294.6,564.2" fill="#0000ff"/>
<polygon points="295,569.7 297.8,574.9 292.2,574.9" fill="#0000ff"/>
<polygon points="300,570.1 302.8,575.3 297.2,575.3" fill="#0000ff"/>
<polygon points="295,593.4 297.8,598.6 292.2,598.6" fill="#0000ff"/>
<polygon points="300,591.8 302.8,597 297.2,597" fill="#0000ff"/>
<polyline points="281.7,599.7 281.7,552.4 297.4,552.4 297.4,556.6" fill="none" stroke="#1a1a1a" stroke-width="0.9"/>
<g transform="translate(289.3 545.3) scale(1 1.1)"><text x="0" y="10.74" font-size="23" text-anchor="middle" font-weight="normal" fill="#000" stroke="#000" stroke-width="0.35">*</text></g>
<polyline points="317.9,606.4 317.9,605.6 329,605.6 329,606.4" fill="none" stroke="#000" stroke-width="0.9"/>
<polyline points="334,606.4 334,603 345.2,603 345.2,606.4" fill="none" stroke="#0000ff" stroke-width="0.8"/>
<circle cx="322.6" cy="605.4" r="2.6" fill="#000"/>
<circle cx="324.6" cy="605.6" r="2.6" fill="#000"/>
<circle cx="326" cy="605.4" r="2.6" fill="#000"/>
<line x1="339.8" y1="599.5" x2="339.8" y2="605" stroke="#0000ff" stroke-width="0.9"/>
<line x1="337.3" y1="599.5" x2="342.3" y2="599.5" stroke="#0000ff" stroke-width="0.9"/>
<line x1="337.3" y1="605" x2="342.3" y2="605" stroke="#0000ff" stroke-width="0.9"/>
<polygon points="339.4,597.8 342.2,603 336.6,603" fill="#0000ff"/>
<polygon points="341.4,599.8 344.2,605 338.6,605" fill="#0000ff"/>
<polygon points="338.6,600.8 341.4,606 335.8,606" fill="#0000ff"/>
<polygon points="340.6,602.4 343.4,607.6 337.8,607.6" fill="#0000ff"/>
<polyline points="323.2,603.5 323.2,593.6 339.5,593.6 339.5,598" fill="none" stroke="#1a1a1a" stroke-width="0.9"/>
<g transform="translate(331.5 586.3) scale(1 1.1)"><text x="0" y="10.74" font-size="23" text-anchor="middle" font-weight="normal" fill="#000" stroke="#000" stroke-width="0.35">*</text></g>
<polyline points="360.2,606.4 360.2,599 371.3,599 371.3,606.4" fill="none" stroke="#000" stroke-width="0.9"/>
<polyline points="376.3,606.4 376.3,556.3 387.5,556.3 387.5,606.4" fill="none" stroke="#0000ff" stroke-width="0.8"/>
<circle cx="366.3" cy="596" r="2.9" fill="#000"/>
<circle cx="366.3" cy="602.6" r="2.9" fill="#000"/>
<line x1="382.4" y1="528.6" x2="382.4" y2="584" stroke="#0000ff" stroke-width="0.9"/>
<line x1="379.9" y1="528.6" x2="384.9" y2="528.6" stroke="#0000ff" stroke-width="0.9"/>
<line x1="379.9" y1="584" x2="384.9" y2="584" stroke="#0000ff" stroke-width="0.9"/>
<polygon points="382.4,521 385.2,526.2 379.6,526.2" fill="#0000ff"/>
<polygon points="380,542.1 382.8,547.3 377.2,547.3" fill="#0000ff"/>
<polygon points="385,542.1 387.8,547.3 382.2,547.3" fill="#0000ff"/>
<polygon points="380,583.9 382.8,589.1 377.2,589.1" fill="#0000ff"/>
<polygon points="385,582.7 387.8,587.9 382.2,587.9" fill="#0000ff"/>
<polyline points="366.3,593.6 366.3,514.8 382.4,514.8 382.4,519.8" fill="none" stroke="#1a1a1a" stroke-width="0.9"/>
<g transform="translate(373.9 506.8) scale(1 1.1)"><text x="0" y="10.74" font-size="23" text-anchor="middle" font-weight="normal" fill="#000" stroke="#000" stroke-width="0.35">*</text></g>
<text x="419.9" y="485" font-size="14.5" text-anchor="start" fill="#000" font-weight="bold">G</text>
<line x1="475.8" y1="498.7" x2="475.8" y2="606.3" stroke="#1a1a1a" stroke-width="1"/>
<line x1="472.1" y1="605.8" x2="475.8" y2="605.8" stroke="#1a1a1a" stroke-width="1"/>
<text x="471.2" y="609.7" font-size="11" text-anchor="end" fill="#000" font-weight="bold">0</text>
<line x1="472.1" y1="584.48" x2="475.8" y2="584.48" stroke="#1a1a1a" stroke-width="1"/>
<text x="471.2" y="588.38" font-size="11" text-anchor="end" fill="#000" font-weight="bold">5000</text>
<line x1="472.1" y1="563.16" x2="475.8" y2="563.16" stroke="#1a1a1a" stroke-width="1"/>
<text x="471.2" y="567.06" font-size="11" text-anchor="end" fill="#000" font-weight="bold">10000</text>
<line x1="472.1" y1="541.84" x2="475.8" y2="541.84" stroke="#1a1a1a" stroke-width="1"/>
<text x="471.2" y="545.74" font-size="11" text-anchor="end" fill="#000" font-weight="bold">15000</text>
<line x1="472.1" y1="520.52" x2="475.8" y2="520.52" stroke="#1a1a1a" stroke-width="1"/>
<text x="471.2" y="524.42" font-size="11" text-anchor="end" fill="#000" font-weight="bold">20000</text>
<line x1="472.1" y1="499.2" x2="475.8" y2="499.2" stroke="#1a1a1a" stroke-width="1"/>
<text x="471.2" y="503.1" font-size="11" text-anchor="end" fill="#000" font-weight="bold">25000</text>
<line x1="475.3" y1="605.8" x2="514.6" y2="605.8" stroke="#1a1a1a" stroke-width="1"/>
<text x="420.5" y="552" font-size="11" text-anchor="middle" fill="#000" font-weight="bold" transform="rotate(-90 420.5 552)">total measured</text>
<text x="434" y="552" font-size="11" text-anchor="middle" fill="#000" font-weight="bold" transform="rotate(-90 434 552)">ng DG/mg protein</text>
<polyline points="480.9,605.8 480.9,598.7 492,598.7 492,605.8" fill="none" stroke="#000" stroke-width="0.9"/>
<polyline points="497.6,605.8 497.6,547 508.8,547 508.8,605.8" fill="none" stroke="#0000ff" stroke-width="0.8"/>
<line x1="503.2" y1="519.6" x2="503.2" y2="574.3" stroke="#0000ff" stroke-width="0.9"/>
<line x1="500.7" y1="519.6" x2="505.7" y2="519.6" stroke="#0000ff" stroke-width="0.9"/>
<line x1="500.7" y1="574.3" x2="505.7" y2="574.3" stroke="#0000ff" stroke-width="0.9"/>
<circle cx="484.3" cy="596" r="2.6" fill="#000"/>
<circle cx="488.6" cy="596" r="2.6" fill="#000"/>
<circle cx="486.4" cy="598.5" r="2.6" fill="#000"/>
<circle cx="485.2" cy="601.3" r="2.6" fill="#000"/>
<circle cx="487.6" cy="601.3" r="2.6" fill="#000"/>
<polygon points="503.2,510.6 506,515.8 500.4,515.8" fill="#0000ff"/>
<polygon points="500.3,534.5 503.1,539.7 497.5,539.7" fill="#0000ff"/>
<polygon points="505.9,534.5 508.7,539.7 503.1,539.7" fill="#0000ff"/>
<polygon points="503.2,567.7 506,572.9 500.4,572.9" fill="#0000ff"/>
<polygon points="503.2,576.7 506,581.9 500.4,581.9" fill="#0000ff"/>
<polyline points="486.2,593.4 486.2,505.5 503.3,505.5 503.3,509" fill="none" stroke="#1a1a1a" stroke-width="0.9"/>
<g transform="translate(494.75 496.1) scale(1 1.1)"><text x="0" y="10.74" font-size="23" text-anchor="middle" font-weight="normal" fill="#000" stroke="#000" stroke-width="0.35" letter-spacing="0.5">**</text></g>
<text x="169.3" y="700.6" font-size="14.5" text-anchor="start" fill="#000" font-weight="bold">H</text>
<line x1="199.5" y1="721.9" x2="199.5" y2="829.3" stroke="#1a1a1a" stroke-width="1"/>
<line x1="195.8" y1="828.8" x2="199.5" y2="828.8" stroke="#1a1a1a" stroke-width="1"/>
<text x="194.9" y="832.7" font-size="11" text-anchor="end" fill="#000" font-weight="bold">0</text>
<line x1="195.8" y1="793.33" x2="199.5" y2="793.33" stroke="#1a1a1a" stroke-width="1"/>
<text x="194.9" y="797.23" font-size="11" text-anchor="end" fill="#000" font-weight="bold">5</text>
<line x1="195.8" y1="757.87" x2="199.5" y2="757.87" stroke="#1a1a1a" stroke-width="1"/>
<text x="194.9" y="761.77" font-size="11" text-anchor="end" fill="#000" font-weight="bold">10</text>
<line x1="195.8" y1="722.4" x2="199.5" y2="722.4" stroke="#1a1a1a" stroke-width="1"/>
<text x="194.9" y="726.3" font-size="11" text-anchor="end" fill="#000" font-weight="bold">15</text>
<line x1="199" y1="828.8" x2="238.8" y2="828.8" stroke="#1a1a1a" stroke-width="1"/>
<text x="177.7" y="773.6" font-size="11" text-anchor="middle" fill="#000" font-weight="bold" transform="rotate(-90 177.7 773.6)">saturated/total DG (%)</text>
<polyline points="205.6,828.8 205.6,768.8 216.8,768.8 216.8,828.8" fill="none" stroke="#000" stroke-width="0.9"/>
<polyline points="221.5,828.8 221.5,797.5 232.9,797.5 232.9,828.8" fill="none" stroke="#0000ff" stroke-width="0.8"/>
<line x1="210.9" y1="751.6" x2="210.9" y2="786.8" stroke="#000" stroke-width="0.9"/>
<line x1="208.4" y1="751.6" x2="213.4" y2="751.6" stroke="#000" stroke-width="0.9"/>
<line x1="208.4" y1="786.8" x2="213.4" y2="786.8" stroke="#000" stroke-width="0.9"/>
<circle cx="210.9" cy="745.2" r="2.6" fill="#000"/>
<circle cx="210.9" cy="757.1" r="2.6" fill="#000"/>
<circle cx="210.9" cy="776.2" r="2.6" fill="#000"/>
<circle cx="213.6" cy="780.2" r="2.6" fill="#000"/>
<circle cx="208.3" cy="787.6" r="2.6" fill="#000"/>
<polygon points="225.7,795 228.5,800.2 222.9,800.2" fill="#0000ff"/>
<polygon points="228.9,795 231.7,800.2 226.1,800.2" fill="#0000ff"/>
<polygon points="227.3,793.8 230.1,799 224.5,799" fill="#0000ff"/>
<polygon points="227.3,796.2 230.1,801.4 224.5,801.4" fill="#0000ff"/>
<polyline points="210.9,740.4 210.9,736.4 227.6,736.4 227.6,794.8" fill="none" stroke="#1a1a1a" stroke-width="0.9"/>
<g transform="translate(219.85 728.8) scale(1 1.1)"><text x="0" y="10.74" font-size="23" text-anchor="middle" font-weight="normal" fill="#000" stroke="#000" stroke-width="0.35" letter-spacing="0.5">**</text></g>
<text x="304.2" y="700.6" font-size="14.5" text-anchor="start" fill="#000" font-weight="bold">I</text>
<line x1="351.1" y1="721.9" x2="351.1" y2="829.4" stroke="#1a1a1a" stroke-width="1"/>
<line x1="347.4" y1="828.9" x2="351.1" y2="828.9" stroke="#1a1a1a" stroke-width="1"/>
<text x="346.5" y="832.8" font-size="11" text-anchor="end" fill="#000" font-weight="bold">80</text>
<line x1="347.4" y1="793.4" x2="351.1" y2="793.4" stroke="#1a1a1a" stroke-width="1"/>
<text x="346.5" y="797.3" font-size="11" text-anchor="end" fill="#000" font-weight="bold">90</text>
<line x1="347.4" y1="757.9" x2="351.1" y2="757.9" stroke="#1a1a1a" stroke-width="1"/>
<text x="346.5" y="761.8" font-size="11" text-anchor="end" fill="#000" font-weight="bold">100</text>
<line x1="347.4" y1="722.4" x2="351.1" y2="722.4" stroke="#1a1a1a" stroke-width="1"/>
<text x="346.5" y="726.3" font-size="11" text-anchor="end" fill="#000" font-weight="bold">110</text>
<line x1="350.6" y1="828.9" x2="390.1" y2="828.9" stroke="#1a1a1a" stroke-width="1"/>
<text x="311" y="771" font-size="11" text-anchor="middle" fill="#000" font-weight="bold" transform="rotate(-90 311 771)">monounsaturated/total</text>
<text x="323" y="771" font-size="11" text-anchor="middle" fill="#000" font-weight="bold" transform="rotate(-90 323 771)">DG (%)</text>
<polyline points="356.9,828.9 356.9,787.4 368.4,787.4 368.4,828.9" fill="none" stroke="#000" stroke-width="0.9"/>
<polyline points="373.4,828.9 373.4,773 384.8,773 384.8,828.9" fill="none" stroke="#0000ff" stroke-width="0.8"/>
<line x1="362.6" y1="779.5" x2="362.6" y2="795.5" stroke="#000" stroke-width="0.9"/>
<line x1="360.1" y1="779.5" x2="365.1" y2="779.5" stroke="#000" stroke-width="0.9"/>
<line x1="360.1" y1="795.5" x2="365.1" y2="795.5" stroke="#000" stroke-width="0.9"/>
<circle cx="364.1" cy="778.4" r="2.6" fill="#000"/>
<circle cx="361.5" cy="782.3" r="2.6" fill="#000"/>
<circle cx="362.4" cy="785" r="2.6" fill="#000"/>
<circle cx="365.4" cy="793.5" r="2.6" fill="#000"/>
<circle cx="359.6" cy="799.6" r="2.6" fill="#000"/>
<polygon points="377.2,770.6 380,775.8 374.4,775.8" fill="#0000ff"/>
<polygon points="380.8,770.6 383.6,775.8 378,775.8" fill="#0000ff"/>
<polygon points="379,769.8 381.8,775 376.2,775" fill="#0000ff"/>
<polygon points="379,771.4 381.8,776.6 376.2,776.6" fill="#0000ff"/>
<polyline points="362.2,777.6 362.2,765.6 379,765.6 379,770.9" fill="none" stroke="#1a1a1a" stroke-width="0.9"/>
<g transform="translate(371.15 757.4) scale(1 1.1)"><text x="0" y="10.74" font-size="23" text-anchor="middle" font-weight="normal" fill="#000" stroke="#000" stroke-width="0.35" letter-spacing="0.5">**</text></g>
<text x="448.2" y="700.6" font-size="14.5" text-anchor="start" fill="#000" font-weight="bold">J</text>
<line x1="484.5" y1="721.9" x2="484.5" y2="829.4" stroke="#1a1a1a" stroke-width="1"/>
<line x1="480.8" y1="828.9" x2="484.5" y2="828.9" stroke="#1a1a1a" stroke-width="1"/>
<text x="479.9" y="832.8" font-size="11" text-anchor="end" fill="#000" font-weight="bold">0</text>
<line x1="480.8" y1="807.6" x2="484.5" y2="807.6" stroke="#1a1a1a" stroke-width="1"/>
<text x="479.9" y="811.5" font-size="11" text-anchor="end" fill="#000" font-weight="bold">5</text>
<line x1="480.8" y1="786.3" x2="484.5" y2="786.3" stroke="#1a1a1a" stroke-width="1"/>
<text x="479.9" y="790.2" font-size="11" text-anchor="end" fill="#000" font-weight="bold">10</text>
<line x1="480.8" y1="765" x2="484.5" y2="765" stroke="#1a1a1a" stroke-width="1"/>
<text x="479.9" y="768.9" font-size="11" text-anchor="end" fill="#000" font-weight="bold">15</text>
<line x1="480.8" y1="743.7" x2="484.5" y2="743.7" stroke="#1a1a1a" stroke-width="1"/>
<text x="479.9" y="747.6" font-size="11" text-anchor="end" fill="#000" font-weight="bold">20</text>
<line x1="480.8" y1="722.4" x2="484.5" y2="722.4" stroke="#1a1a1a" stroke-width="1"/>
<text x="479.9" y="726.3" font-size="11" text-anchor="end" fill="#000" font-weight="bold">25</text>
<line x1="484" y1="828.9" x2="523.5" y2="828.9" stroke="#1a1a1a" stroke-width="1"/>
<text x="459.5" y="775" font-size="11" text-anchor="middle" fill="#000" font-weight="bold" transform="rotate(-90 459.5 775)">unsaturated/saturated</text>
<polyline points="489.8,828.9 489.8,778.9 501.5,778.9 501.5,828.9" fill="none" stroke="#000" stroke-width="0.9"/>
<polyline points="506.5,828.9 506.5,737.8 517.6,737.8 517.6,828.9" fill="none" stroke="#0000ff" stroke-width="0.8"/>
<line x1="495.6" y1="764" x2="495.6" y2="794" stroke="#000" stroke-width="0.9"/>
<line x1="493.1" y1="764" x2="498.1" y2="764" stroke="#000" stroke-width="0.9"/>
<line x1="493.1" y1="794" x2="498.1" y2="794" stroke="#000" stroke-width="0.9"/>
<circle cx="495.6" cy="759.8" r="2.6" fill="#000"/>
<circle cx="493" cy="770.9" r="2.6" fill="#000"/>
<circle cx="498.3" cy="775.4" r="2.6" fill="#000"/>
<circle cx="498.3" cy="790.8" r="2.6" fill="#000"/>
<circle cx="493" cy="796.9" r="2.6" fill="#000"/>
<polygon points="512.1,730.8 514.9,736 509.3,736" fill="#0000ff"/>
<polygon points="509.3,735.5 512.1,740.7 506.5,740.7" fill="#0000ff"/>
<polygon points="515.5,734.2 518.3,739.4 512.7,739.4" fill="#0000ff"/>
<polygon points="512.1,738.8 514.9,744 509.3,744" fill="#0000ff"/>
<polyline points="495.6,756.3 495.6,725 512.3,725 512.3,729.8" fill="none" stroke="#1a1a1a" stroke-width="0.9"/>
<g transform="translate(503.55 716.8) scale(1 1.1)"><text x="0" y="10.74" font-size="23" text-anchor="middle" font-weight="normal" fill="#000" stroke="#000" stroke-width="0.35" letter-spacing="0.5">***</text></g>
<text x="175.8" y="913.6" font-size="14.5" text-anchor="start" fill="#000" font-weight="bold">K</text>
<line x1="211.5" y1="929.5" x2="211.5" y2="1036.7" stroke="#1a1a1a" stroke-width="1"/>
<line x1="207.8" y1="1036.2" x2="211.5" y2="1036.2" stroke="#1a1a1a" stroke-width="1"/>
<text x="206.9" y="1040.1" font-size="11" text-anchor="end" fill="#000" font-weight="bold">0</text>
<line x1="207.8" y1="1009.65" x2="211.5" y2="1009.65" stroke="#1a1a1a" stroke-width="1"/>
<text x="206.9" y="1013.55" font-size="11" text-anchor="end" fill="#000" font-weight="bold">200</text>
<line x1="207.8" y1="983.1" x2="211.5" y2="983.1" stroke="#1a1a1a" stroke-width="1"/>
<text x="206.9" y="987" font-size="11" text-anchor="end" fill="#000" font-weight="bold">400</text>
<line x1="207.8" y1="956.55" x2="211.5" y2="956.55" stroke="#1a1a1a" stroke-width="1"/>
<text x="206.9" y="960.45" font-size="11" text-anchor="end" fill="#000" font-weight="bold">600</text>
<line x1="207.8" y1="930" x2="211.5" y2="930" stroke="#1a1a1a" stroke-width="1"/>
<text x="206.9" y="933.9" font-size="11" text-anchor="end" fill="#000" font-weight="bold">800</text>
<line x1="211" y1="1036.2" x2="417.6" y2="1036.2" stroke="#1a1a1a" stroke-width="1"/>
<line x1="230.3" y1="1036.2" x2="230.3" y2="1040" stroke="#1a1a1a" stroke-width="1"/>
<line x1="272.42" y1="1036.2" x2="272.42" y2="1040" stroke="#1a1a1a" stroke-width="1"/>
<line x1="314.54" y1="1036.2" x2="314.54" y2="1040" stroke="#1a1a1a" stroke-width="1"/>
<line x1="356.66" y1="1036.2" x2="356.66" y2="1040" stroke="#1a1a1a" stroke-width="1"/>
<line x1="398.78" y1="1036.2" x2="398.78" y2="1040" stroke="#1a1a1a" stroke-width="1"/>
<text x="183.5" y="981" font-size="11" text-anchor="middle" fill="#000" font-weight="bold" transform="rotate(-90 183.5 981)">ng CER/mg protein</text>
<text x="234.7" y="1049" font-size="11" text-anchor="end" fill="#000" font-weight="bold" transform="rotate(-45 234.7 1049)">CER 16:0</text>
<text x="276.82" y="1049" font-size="11" text-anchor="end" fill="#000" font-weight="bold" transform="rotate(-45 276.82 1049)">CER 18:0</text>
<text x="318.94" y="1049" font-size="11" text-anchor="end" fill="#000" font-weight="bold" transform="rotate(-45 318.94 1049)">CER 20:1</text>
<text x="361.06" y="1049" font-size="11" text-anchor="end" fill="#000" font-weight="bold" transform="rotate(-45 361.06 1049)">CER 22:1</text>
<text x="403.18" y="1049" font-size="11" text-anchor="end" fill="#000" font-weight="bold" transform="rotate(-45 403.18 1049)">CER 24:1</text>
<polyline points="216.9,1036.2 216.9,1008.3 227.5,1008.3 227.5,1036.2" fill="none" stroke="#000" stroke-width="0.9"/>
<polyline points="232.8,1036.2 232.8,1000.1 243.6,1000.1 243.6,1036.2" fill="none" stroke="#0000ff" stroke-width="0.8"/>
<line x1="222.3" y1="998.6" x2="222.3" y2="1018.4" stroke="#000" stroke-width="0.9"/>
<line x1="219.8" y1="998.6" x2="224.8" y2="998.6" stroke="#000" stroke-width="0.9"/>
<line x1="219.8" y1="1018.4" x2="224.8" y2="1018.4" stroke="#000" stroke-width="0.9"/>
<circle cx="222.3" cy="994.6" r="2.6" fill="#000"/>
<circle cx="221" cy="1005.6" r="2.6" fill="#000"/>
<circle cx="223.8" cy="1006.4" r="2.6" fill="#000"/>
<circle cx="222.3" cy="1012.4" r="2.6" fill="#000"/>
<circle cx="222.3" cy="1022.4" r="2.6" fill="#000"/>
<line x1="238" y1="989" x2="238" y2="1011" stroke="#0000ff" stroke-width="0.9"/>
<line x1="235.5" y1="989" x2="240.5" y2="989" stroke="#0000ff" stroke-width="0.9"/>
<line x1="235.5" y1="1011" x2="240.5" y2="1011" stroke="#0000ff" stroke-width="0.9"/>
<polygon points="237,988 239.8,993.2 234.2,993.2" fill="#0000ff"/>
<polygon points="239.4,988.6 242.2,993.8 236.6,993.8" fill="#0000ff"/>
<polygon points="238,991.4 240.8,996.6 235.2,996.6" fill="#0000ff"/>
<polygon points="240.8,1009.4 243.6,1014.6 238,1014.6" fill="#0000ff"/>
<polygon points="236,1013.4 238.8,1018.6 233.2,1018.6" fill="#0000ff"/>
<polyline points="259.02,1036.2 259.02,1033.2 269.62,1033.2 269.62,1036.2" fill="none" stroke="#000" stroke-width="0.9"/>
<polyline points="274.92,1036.2 274.92,1026.5 285.72,1026.5 285.72,1036.2" fill="none" stroke="#0000ff" stroke-width="0.8"/>
<circle cx="263.2" cy="1032.2" r="2.6" fill="#000"/>
<circle cx="264.8" cy="1032.8" r="2.6" fill="#000"/>
<circle cx="266" cy="1032.4" r="2.6" fill="#000"/>
<line x1="280.6" y1="1021" x2="280.6" y2="1032" stroke="#0000ff" stroke-width="0.9"/>
<line x1="278.1" y1="1021" x2="283.1" y2="1021" stroke="#0000ff" stroke-width="0.9"/>
<line x1="278.1" y1="1032" x2="283.1" y2="1032" stroke="#0000ff" stroke-width="0.9"/>
<polygon points="277.8,1019.6 280.6,1024.8 275,1024.8" fill="#0000ff"/>
<polygon points="282.6,1019.8 285.4,1025 279.8,1025" fill="#0000ff"/>
<polygon points="280.8,1022.4 283.6,1027.6 278,1027.6" fill="#0000ff"/>
<polygon points="279,1027.8 281.8,1033 276.2,1033" fill="#0000ff"/>
<polygon points="282,1028.4 284.8,1033.6 279.2,1033.6" fill="#0000ff"/>
<polyline points="264.1,1029.5 264.1,1015.3 280.8,1015.3 280.8,1019.5" fill="none" stroke="#1a1a1a" stroke-width="0.9"/>
<g transform="translate(272.6 1007.9) scale(1 1.1)"><text x="0" y="10.74" font-size="23" text-anchor="middle" font-weight="normal" fill="#000" stroke="#000" stroke-width="0.35">*</text></g>
<polyline points="301.14,1036.2 301.14,1031.4 311.74,1031.4 311.74,1036.2" fill="none" stroke="#000" stroke-width="0.9"/>
<polyline points="317.04,1036.2 317.04,1026.5 327.84,1026.5 327.84,1036.2" fill="none" stroke="#0000ff" stroke-width="0.8"/>
<circle cx="304.6" cy="1029.2" r="2.6" fill="#000"/>
<circle cx="306.4" cy="1030.6" r="2.6" fill="#000"/>
<circle cx="308.2" cy="1031.6" r="2.6" fill="#000"/>
<circle cx="306" cy="1032.4" r="2.6" fill="#000"/>
<line x1="322.4" y1="1022" x2="322.4" y2="1031" stroke="#0000ff" stroke-width="0.9"/>
<line x1="319.9" y1="1022" x2="324.9" y2="1022" stroke="#0000ff" stroke-width="0.9"/>
<line x1="319.9" y1="1031" x2="324.9" y2="1031" stroke="#0000ff" stroke-width="0.9"/>
<polygon points="321,1019 323.8,1024.2 318.2,1024.2" fill="#0000ff"/>
<polygon points="323.6,1021.2 326.4,1026.4 320.8,1026.4" fill="#0000ff"/>
<polygon points="321.6,1023.2 324.4,1028.4 318.8,1028.4" fill="#0000ff"/>
<polygon points="324.2,1024.6 327,1029.8 321.4,1029.8" fill="#0000ff"/>
<polygon points="322,1026.8 324.8,1032 319.2,1032" fill="#0000ff"/>
<polyline points="306.2,1027 306.2,1016.3 322.3,1016.3 322.3,1020.7" fill="none" stroke="#1a1a1a" stroke-width="0.9"/>
<g transform="translate(314.1 1007.9) scale(1 1.1)"><text x="0" y="10.74" font-size="23" text-anchor="middle" font-weight="normal" fill="#000" stroke="#000" stroke-width="0.35">*</text></g>
<polyline points="343.26,1036.2 343.26,988.4 353.86,988.4 353.86,1036.2" fill="none" stroke="#000" stroke-width="0.9"/>
<polyline points="359.16,1036.2 359.16,974.2 369.96,974.2 369.96,1036.2" fill="none" stroke="#0000ff" stroke-width="0.8"/>
<line x1="348.7" y1="969.3" x2="348.7" y2="1007" stroke="#000" stroke-width="0.9"/>
<line x1="346.2" y1="969.3" x2="351.2" y2="969.3" stroke="#000" stroke-width="0.9"/>
<line x1="346.2" y1="1007" x2="351.2" y2="1007" stroke="#000" stroke-width="0.9"/>
<circle cx="348.7" cy="959.8" r="2.6" fill="#000"/>
<circle cx="348.7" cy="979.2" r="2.6" fill="#000"/>
<circle cx="347.4" cy="999.1" r="2.6" fill="#000"/>
<circle cx="349.9" cy="1002.1" r="2.6" fill="#000"/>
<line x1="364.8" y1="966.5" x2="364.8" y2="981.5" stroke="#0000ff" stroke-width="0.9"/>
<line x1="362.3" y1="966.5" x2="367.3" y2="966.5" stroke="#0000ff" stroke-width="0.9"/>
<line x1="362.3" y1="981.5" x2="367.3" y2="981.5" stroke="#0000ff" stroke-width="0.9"/>
<polygon points="364.8,960.2 367.6,965.4 362,965.4" fill="#0000ff"/>
<polygon points="364.8,969.6 367.6,974.8 362,974.8" fill="#0000ff"/>
<polygon points="363.6,975.1 366.4,980.3 360.8,980.3" fill="#0000ff"/>
<polygon points="366.6,977.8 369.4,983 363.8,983" fill="#0000ff"/>
<polyline points="385.38,1036.2 385.38,991.4 395.98,991.4 395.98,1036.2" fill="none" stroke="#000" stroke-width="0.9"/>
<polyline points="401.28,1036.2 401.28,1000.1 412.08,1000.1 412.08,1036.2" fill="none" stroke="#0000ff" stroke-width="0.8"/>
<line x1="390.9" y1="973.5" x2="390.9" y2="1009.5" stroke="#000" stroke-width="0.9"/>
<line x1="388.4" y1="973.5" x2="393.4" y2="973.5" stroke="#000" stroke-width="0.9"/>
<line x1="388.4" y1="1009.5" x2="393.4" y2="1009.5" stroke="#000" stroke-width="0.9"/>
<circle cx="390.9" cy="962.8" r="2.6" fill="#000"/>
<circle cx="390.9" cy="988.4" r="2.6" fill="#000"/>
<circle cx="390.9" cy="996.6" r="2.6" fill="#000"/>
<circle cx="393.9" cy="1001.3" r="2.6" fill="#000"/>
<circle cx="388.5" cy="1008.8" r="2.6" fill="#000"/>
<line x1="407" y1="994.5" x2="407" y2="1004" stroke="#0000ff" stroke-width="0.9"/>
<line x1="404.5" y1="994.5" x2="409.5" y2="994.5" stroke="#0000ff" stroke-width="0.9"/>
<line x1="404.5" y1="1004" x2="409.5" y2="1004" stroke="#0000ff" stroke-width="0.9"/>
<polygon points="407.1,988.8 409.9,994 404.3,994" fill="#0000ff"/>
<polygon points="409.6,994.5 412.4,999.7 406.8,999.7" fill="#0000ff"/>
<polygon points="403.4,997 406.2,1002.2 400.6,1002.2" fill="#0000ff"/>
<polygon points="409.6,997.5 412.4,1002.7 406.8,1002.7" fill="#0000ff"/>
<polygon points="405.9,999.5 408.7,1004.7 403.1,1004.7" fill="#0000ff"/>
<text x="427.5" y="913.7" font-size="14.5" text-anchor="start" fill="#000" font-weight="bold">L</text>
<line x1="473.6" y1="928.6" x2="473.6" y2="1036.1" stroke="#1a1a1a" stroke-width="1"/>
<line x1="469.9" y1="1035.6" x2="473.6" y2="1035.6" stroke="#1a1a1a" stroke-width="1"/>
<text x="469" y="1039.5" font-size="11" text-anchor="end" fill="#000" font-weight="bold">0</text>
<line x1="469.9" y1="1008.97" x2="473.6" y2="1008.97" stroke="#1a1a1a" stroke-width="1"/>
<text x="469" y="1012.87" font-size="11" text-anchor="end" fill="#000" font-weight="bold">500</text>
<line x1="469.9" y1="982.35" x2="473.6" y2="982.35" stroke="#1a1a1a" stroke-width="1"/>
<text x="469" y="986.25" font-size="11" text-anchor="end" fill="#000" font-weight="bold">1000</text>
<line x1="469.9" y1="955.73" x2="473.6" y2="955.73" stroke="#1a1a1a" stroke-width="1"/>
<text x="469" y="959.62" font-size="11" text-anchor="end" fill="#000" font-weight="bold">1500</text>
<line x1="469.9" y1="929.1" x2="473.6" y2="929.1" stroke="#1a1a1a" stroke-width="1"/>
<text x="469" y="933" font-size="11" text-anchor="end" fill="#000" font-weight="bold">2000</text>
<line x1="473.1" y1="1035.6" x2="512.8" y2="1035.6" stroke="#1a1a1a" stroke-width="1"/>
<text x="429.5" y="979.6" font-size="11" text-anchor="middle" fill="#000" font-weight="bold" transform="rotate(-90 429.5 979.6)">total measured</text>
<text x="442.7" y="979.6" font-size="11" text-anchor="middle" fill="#000" font-weight="bold" transform="rotate(-90 442.7 979.6)">ng CER/mg protein</text>
<polyline points="479.2,1035.6 479.2,983.8 490.4,983.8 490.4,1035.6" fill="none" stroke="#000" stroke-width="0.9"/>
<polyline points="495.4,1035.6 495.4,970.4 507.1,970.4 507.1,1035.6" fill="none" stroke="#0000ff" stroke-width="0.8"/>
<line x1="484.7" y1="965.4" x2="484.7" y2="1002" stroke="#000" stroke-width="0.9"/>
<line x1="482.2" y1="965.4" x2="487.2" y2="965.4" stroke="#000" stroke-width="0.9"/>
<line x1="482.2" y1="1002" x2="487.2" y2="1002" stroke="#000" stroke-width="0.9"/>
<circle cx="484.7" cy="954.2" r="2.6" fill="#000"/>
<circle cx="484.7" cy="977.6" r="2.6" fill="#000"/>
<circle cx="483.4" cy="992" r="2.6" fill="#000"/>
<circle cx="486.4" cy="997.5" r="2.6" fill="#000"/>
<circle cx="484.7" cy="999" r="2.6" fill="#000"/>
<polygon points="501.3,962.1 504.1,967.3 498.5,967.3" fill="#0000ff"/>
<polygon points="498.4,964.6 501.2,969.8 495.6,969.8" fill="#0000ff"/>
<polygon points="505.3,964.1 508.1,969.3 502.5,969.3" fill="#0000ff"/>
<polygon points="498.9,969.5 501.7,974.7 496.1,974.7" fill="#0000ff"/>
<polygon points="503.3,969.5 506.1,974.7 500.5,974.7" fill="#0000ff"/>
<text x="169.8" y="1109.9" font-size="14.5" text-anchor="start" fill="#000" font-weight="bold">M</text>
<line x1="208.1" y1="1128.8" x2="208.1" y2="1235.9" stroke="#1a1a1a" stroke-width="1"/>
<line x1="204.4" y1="1235.4" x2="208.1" y2="1235.4" stroke="#1a1a1a" stroke-width="1"/>
<text x="203.5" y="1239.3" font-size="11" text-anchor="end" fill="#000" font-weight="bold">0</text>
<line x1="204.4" y1="1223.61" x2="208.1" y2="1223.61" stroke="#1a1a1a" stroke-width="1"/>
<text x="203.5" y="1227.51" font-size="11" text-anchor="end" fill="#000" font-weight="bold">5</text>
<line x1="204.4" y1="1211.82" x2="208.1" y2="1211.82" stroke="#1a1a1a" stroke-width="1"/>
<text x="203.5" y="1215.72" font-size="11" text-anchor="end" fill="#000" font-weight="bold">10</text>
<line x1="204.4" y1="1200.03" x2="208.1" y2="1200.03" stroke="#1a1a1a" stroke-width="1"/>
<text x="203.5" y="1203.93" font-size="11" text-anchor="end" fill="#000" font-weight="bold">15</text>
<line x1="204.4" y1="1188.24" x2="208.1" y2="1188.24" stroke="#1a1a1a" stroke-width="1"/>
<text x="203.5" y="1192.14" font-size="11" text-anchor="end" fill="#000" font-weight="bold">20</text>
<line x1="204.4" y1="1176.46" x2="208.1" y2="1176.46" stroke="#1a1a1a" stroke-width="1"/>
<text x="203.5" y="1180.36" font-size="11" text-anchor="end" fill="#000" font-weight="bold">25</text>
<line x1="204.4" y1="1164.67" x2="208.1" y2="1164.67" stroke="#1a1a1a" stroke-width="1"/>
<text x="203.5" y="1168.57" font-size="11" text-anchor="end" fill="#000" font-weight="bold">30</text>
<line x1="204.4" y1="1152.88" x2="208.1" y2="1152.88" stroke="#1a1a1a" stroke-width="1"/>
<text x="203.5" y="1156.78" font-size="11" text-anchor="end" fill="#000" font-weight="bold">35</text>
<line x1="204.4" y1="1141.09" x2="208.1" y2="1141.09" stroke="#1a1a1a" stroke-width="1"/>
<text x="203.5" y="1144.99" font-size="11" text-anchor="end" fill="#000" font-weight="bold">40</text>
<line x1="204.4" y1="1129.3" x2="208.1" y2="1129.3" stroke="#1a1a1a" stroke-width="1"/>
<text x="203.5" y="1133.2" font-size="11" text-anchor="end" fill="#000" font-weight="bold">45</text>
<line x1="207.6" y1="1235.4" x2="247.5" y2="1235.4" stroke="#1a1a1a" stroke-width="1"/>
<text x="181" y="1180" font-size="11" text-anchor="middle" fill="#000" font-weight="bold" transform="rotate(-90 181 1180)">saturated/total CER (%)</text>
<polyline points="214.1,1235.4 214.1,1177 225.5,1177 225.5,1235.4" fill="none" stroke="#000" stroke-width="0.9"/>
<polyline points="230.3,1235.4 230.3,1166.4 242,1166.4 242,1235.4" fill="none" stroke="#0000ff" stroke-width="0.8"/>
<line x1="219.4" y1="1166" x2="219.4" y2="1188.7" stroke="#000" stroke-width="0.9"/>
<line x1="216.9" y1="1166" x2="221.9" y2="1166" stroke="#000" stroke-width="0.9"/>
<line x1="216.9" y1="1188.7" x2="221.9" y2="1188.7" stroke="#000" stroke-width="0.9"/>
<line x1="236.1" y1="1148.4" x2="236.1" y2="1185" stroke="#0000ff" stroke-width="0.9"/>
<line x1="233.6" y1="1148.4" x2="238.6" y2="1148.4" stroke="#0000ff" stroke-width="0.9"/>
<line x1="233.6" y1="1185" x2="238.6" y2="1185" stroke="#0000ff" stroke-width="0.9"/>
<circle cx="216.8" cy="1166.4" r="2.6" fill="#000"/>
<circle cx="222.1" cy="1165.6" r="2.6" fill="#000"/>
<circle cx="216.8" cy="1178.9" r="2.6" fill="#000"/>
<circle cx="222.1" cy="1182.3" r="2.6" fill="#000"/>
<circle cx="219.4" cy="1192.9" r="2.6" fill="#000"/>
<polygon points="238.8,1146.3 241.6,1151.5 236,1151.5" fill="#0000ff"/>
<polygon points="233.5,1149.8 236.3,1155 230.7,1155" fill="#0000ff"/>
<polygon points="236.1,1160.4 238.9,1165.6 233.3,1165.6" fill="#0000ff"/>
<polygon points="238.8,1180.8 241.6,1186 236,1186" fill="#0000ff"/>
<polygon points="233.5,1185.6 236.3,1190.8 230.7,1190.8" fill="#0000ff"/>
<text x="309.2" y="1108" font-size="14.5" text-anchor="start" fill="#000" font-weight="bold">N</text>
<line x1="356.9" y1="1127.8" x2="356.9" y2="1235.1" stroke="#1a1a1a" stroke-width="1"/>
<line x1="353.2" y1="1234.6" x2="356.9" y2="1234.6" stroke="#1a1a1a" stroke-width="1"/>
<text x="352.3" y="1238.5" font-size="11" text-anchor="end" fill="#000" font-weight="bold">50</text>
<line x1="353.2" y1="1208.02" x2="356.9" y2="1208.02" stroke="#1a1a1a" stroke-width="1"/>
<text x="352.3" y="1211.92" font-size="11" text-anchor="end" fill="#000" font-weight="bold">60</text>
<line x1="353.2" y1="1181.45" x2="356.9" y2="1181.45" stroke="#1a1a1a" stroke-width="1"/>
<text x="352.3" y="1185.35" font-size="11" text-anchor="end" fill="#000" font-weight="bold">70</text>
<line x1="353.2" y1="1154.88" x2="356.9" y2="1154.88" stroke="#1a1a1a" stroke-width="1"/>
<text x="352.3" y="1158.78" font-size="11" text-anchor="end" fill="#000" font-weight="bold">80</text>
<line x1="353.2" y1="1128.3" x2="356.9" y2="1128.3" stroke="#1a1a1a" stroke-width="1"/>
<text x="352.3" y="1132.2" font-size="11" text-anchor="end" fill="#000" font-weight="bold">90</text>
<line x1="356.4" y1="1234.6" x2="395.9" y2="1234.6" stroke="#1a1a1a" stroke-width="1"/>
<text x="319" y="1177.6" font-size="11" text-anchor="middle" fill="#000" font-weight="bold" transform="rotate(-90 319 1177.6)">monounsaturated/total</text>
<text x="332.3" y="1177.6" font-size="11" text-anchor="middle" fill="#000" font-weight="bold" transform="rotate(-90 332.3 1177.6)">CER (%)</text>
<polyline points="362.2,1234.6 362.2,1167.5 373.4,1167.5 373.4,1234.6" fill="none" stroke="#000" stroke-width="0.9"/>
<polyline points="378.7,1234.6 378.7,1179.8 390.1,1179.8 390.1,1234.6" fill="none" stroke="#0000ff" stroke-width="0.8"/>
<line x1="367.8" y1="1154.5" x2="367.8" y2="1179.5" stroke="#000" stroke-width="0.9"/>
<line x1="365.3" y1="1154.5" x2="370.3" y2="1154.5" stroke="#000" stroke-width="0.9"/>
<line x1="365.3" y1="1179.5" x2="370.3" y2="1179.5" stroke="#000" stroke-width="0.9"/>
<line x1="384.8" y1="1159.3" x2="384.8" y2="1199.2" stroke="#0000ff" stroke-width="0.9"/>
<line x1="382.3" y1="1159.3" x2="387.3" y2="1159.3" stroke="#0000ff" stroke-width="0.9"/>
<line x1="382.3" y1="1199.2" x2="387.3" y2="1199.2" stroke="#0000ff" stroke-width="0.9"/>
<circle cx="367.8" cy="1149.7" r="2.6" fill="#000"/>
<circle cx="364.9" cy="1161.1" r="2.6" fill="#000"/>
<circle cx="371" cy="1166.1" r="2.6" fill="#000"/>
<circle cx="364.9" cy="1180.2" r="2.6" fill="#000"/>
<circle cx="371" cy="1180.2" r="2.6" fill="#000"/>
<polygon points="387.5,1153.7 390.3,1158.9 384.7,1158.9" fill="#0000ff"/>
<polygon points="381.6,1157.7 384.4,1162.9 378.8,1162.9" fill="#0000ff"/>
<polygon points="384.8,1180.3 387.6,1185.5 382,1185.5" fill="#0000ff"/>
<polygon points="387.5,1194.9 390.3,1200.1 384.7,1200.1" fill="#0000ff"/>
<polygon points="381.6,1197.5 384.4,1202.7 378.8,1202.7" fill="#0000ff"/>
<text x="455.8" y="1107.2" font-size="14.5" text-anchor="start" fill="#000" font-weight="bold">O</text>
<line x1="483.7" y1="1126.8" x2="483.7" y2="1234" stroke="#1a1a1a" stroke-width="1"/>
<line x1="480" y1="1233.5" x2="483.7" y2="1233.5" stroke="#1a1a1a" stroke-width="1"/>
<text x="479.1" y="1237.4" font-size="11" text-anchor="end" fill="#000" font-weight="bold">0</text>
<line x1="480" y1="1212.26" x2="483.7" y2="1212.26" stroke="#1a1a1a" stroke-width="1"/>
<text x="479.1" y="1216.16" font-size="11" text-anchor="end" fill="#000" font-weight="bold">1</text>
<line x1="480" y1="1191.02" x2="483.7" y2="1191.02" stroke="#1a1a1a" stroke-width="1"/>
<text x="479.1" y="1194.92" font-size="11" text-anchor="end" fill="#000" font-weight="bold">2</text>
<line x1="480" y1="1169.78" x2="483.7" y2="1169.78" stroke="#1a1a1a" stroke-width="1"/>
<text x="479.1" y="1173.68" font-size="11" text-anchor="end" fill="#000" font-weight="bold">3</text>
<line x1="480" y1="1148.54" x2="483.7" y2="1148.54" stroke="#1a1a1a" stroke-width="1"/>
<text x="479.1" y="1152.44" font-size="11" text-anchor="end" fill="#000" font-weight="bold">4</text>
<line x1="480" y1="1127.3" x2="483.7" y2="1127.3" stroke="#1a1a1a" stroke-width="1"/>
<text x="479.1" y="1131.2" font-size="11" text-anchor="end" fill="#000" font-weight="bold">5</text>
<line x1="483.2" y1="1233.5" x2="522.7" y2="1233.5" stroke="#1a1a1a" stroke-width="1"/>
<text x="464.5" y="1181.5" font-size="11" text-anchor="middle" fill="#000" font-weight="bold" transform="rotate(-90 464.5 1181.5)">unsaturated/saturated</text>
<polyline points="489.5,1233.5 489.5,1165.6 500.9,1165.6 500.9,1233.5" fill="none" stroke="#000" stroke-width="0.9"/>
<polyline points="505.4,1233.5 505.4,1177 517.4,1177 517.4,1233.5" fill="none" stroke="#0000ff" stroke-width="0.8"/>
<line x1="494.8" y1="1146.5" x2="494.8" y2="1184.5" stroke="#000" stroke-width="0.9"/>
<line x1="492.3" y1="1146.5" x2="497.3" y2="1146.5" stroke="#000" stroke-width="0.9"/>
<line x1="492.3" y1="1184.5" x2="497.3" y2="1184.5" stroke="#000" stroke-width="0.9"/>
<line x1="511.5" y1="1155" x2="511.5" y2="1198.8" stroke="#0000ff" stroke-width="0.9"/>
<line x1="509" y1="1155" x2="514" y2="1155" stroke="#0000ff" stroke-width="0.9"/>
<line x1="509" y1="1198.8" x2="514" y2="1198.8" stroke="#0000ff" stroke-width="0.9"/>
<circle cx="494.8" cy="1137.2" r="2.6" fill="#000"/>
<circle cx="492.2" cy="1160.3" r="2.6" fill="#000"/>
<circle cx="497.7" cy="1166.4" r="2.6" fill="#000"/>
<circle cx="492.2" cy="1182.9" r="2.6" fill="#000"/>
<circle cx="497.7" cy="1182.9" r="2.6" fill="#000"/>
<polygon points="511.5,1147.9 514.3,1153.1 508.7,1153.1" fill="#0000ff"/>
<polygon points="511.5,1156.9 514.3,1162.1 508.7,1162.1" fill="#0000ff"/>
<polygon points="511.5,1184.2 514.3,1189.4 508.7,1189.4" fill="#0000ff"/>
<polygon points="508.9,1194.3 511.7,1199.5 506.1,1199.5" fill="#0000ff"/>
<polygon points="514.7,1193.5 517.5,1198.7 511.9,1198.7" fill="#0000ff"/>
</svg>
</body>
</html>
